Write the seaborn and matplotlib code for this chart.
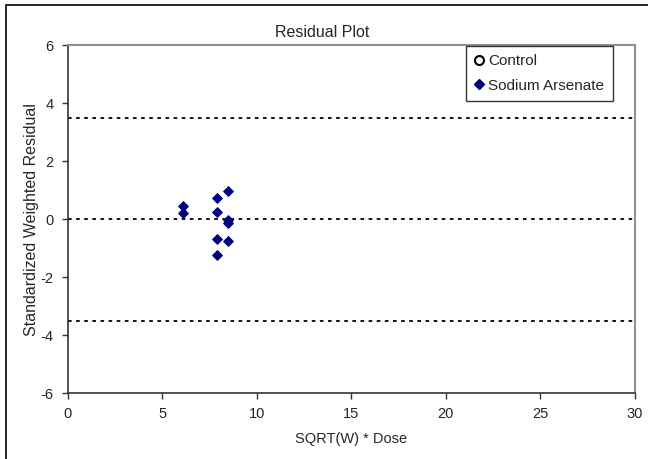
import matplotlib
matplotlib.use("Agg")
import matplotlib.pyplot as plt
import seaborn as sns
import pandas as pd
from matplotlib.lines import Line2D
from matplotlib.patches import Rectangle

sns.set_style("white")
plt.rcParams['font.family'] = ['Liberation Sans', 'DejaVu Sans']
plt.rcParams['axes.unicode_minus'] = False

# Data
control_x = []
control_y = []
arsenate_x = [6.1, 6.1, 7.9, 7.9, 7.9, 7.9, 8.5, 8.5, 8.5, 8.5]
arsenate_y = [0.45, 0.22, 0.72, 0.26, -0.68, -1.22, 0.97, -0.02, -0.12, -0.74]
ref_lines = [3.5, 0.0, -3.5]
x_ticks = [0, 5, 10, 15, 20, 25, 30]
y_ticks = [-6, -4, -2, 0, 2, 4, 6]

df = pd.DataFrame({"x": arsenate_x, "y": arsenate_y})

fig = plt.figure(figsize=(6.48, 4.59), dpi=100)
ax = fig.add_axes([67.7/648, 1-393.3/459, (635-67.7)/648, (393.3-45)/459])

for yv in ref_lines:
    ax.axhline(yv, color='black', linestyle=(0, (2, 2.5)), linewidth=1.3, zorder=1)

ax.scatter(control_x, control_y, marker='o', facecolor='white', edgecolor='black')
sns.scatterplot(data=df, x="x", y="y", ax=ax, marker='D', s=24,
                color='#000080', edgecolor='#000080', linewidth=0.8, zorder=3,
                legend=False)

ax.set_xlim(0, 30)
ax.set_ylim(-6, 6)
ax.set_xticks(x_ticks)
ax.set_yticks(y_ticks)
ax.tick_params(axis='both', direction='out', length=4, width=1, color='#333333',
               labelsize=10.5, pad=6, left=True, bottom=True)
ax.set_xlabel("SQRT(W) * Dose", fontsize=10.5, labelpad=8)
ax.set_ylabel("Standardized Weighted Residual", fontsize=11.5, labelpad=1)
ax.set_title("Residual Plot", fontsize=11.5, pad=6, x=(322-67.7)/567.3)

for side in ['left', 'bottom']:
    ax.spines[side].set_color('#333333')
    ax.spines[side].set_linewidth(1.2)
for side in ['top', 'right']:
    ax.spines[side].set_color('#909090')
    ax.spines[side].set_linewidth(1.5)

handles = [
    Line2D([], [], marker='o', linestyle='none', markerfacecolor='white',
           markeredgecolor='black', markeredgewidth=1.5, markersize=6.5, label='Control'),
    Line2D([], [], marker='D', linestyle='none', markerfacecolor='#000080',
           markeredgecolor='#000080', markersize=5.5, label='Sodium Arsenate'),
]
leg = ax.legend(handles=handles, loc='upper right', bbox_to_anchor=(612.7/648, 1-45.5/459),
                bbox_transform=fig.transFigure, frameon=True, fancybox=False,
                fontsize=11, handlelength=0.6, handletextpad=0.3, borderpad=0.55,
                labelspacing=0.7, borderaxespad=0)
leg.get_frame().set_edgecolor('black')
leg.get_frame().set_linewidth(1.0)

fig.patches.append(Rectangle((6/648, -0.1), 1.2, 1 - 5/459 + 0.1, transform=fig.transFigure,
                             fill=False, edgecolor='black', linewidth=1.2))

fig.savefig("out.png", dpi=100)
